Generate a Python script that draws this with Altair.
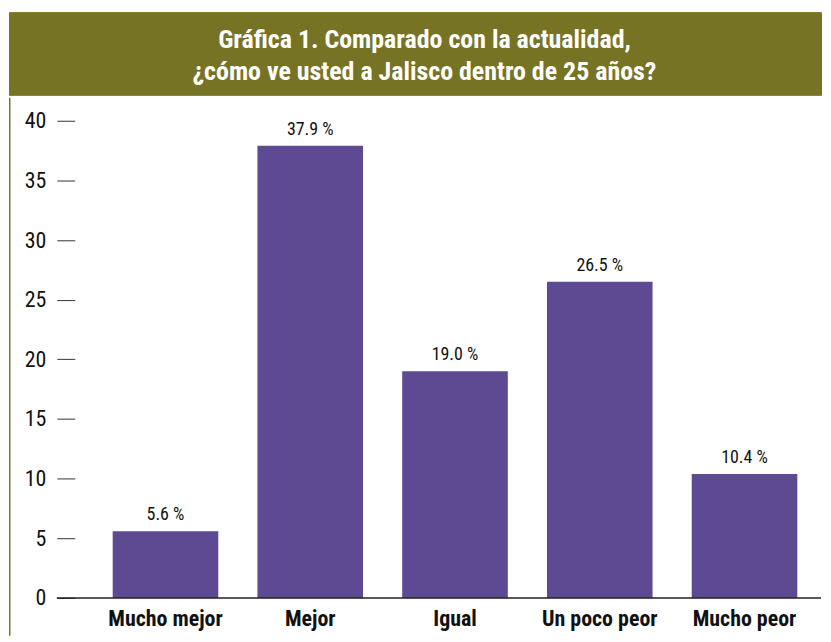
import altair as alt
import pandas as pd

categories = ["Mucho mejor", "Mejor", "Igual", "Un poco peor", "Mucho peor"]
values = [5.6, 37.9, 19.0, 26.5, 10.4]
y_ticks = [0, 5, 10, 15, 20, 25, 30, 35, 40]
title_lines = ["Gráfica 1. Comparado con la actualidad,", "¿cómo ve usted a Jalisco dentro de 25 años?"]

OLIVE = "#767424"
PURPLE = "#5E4993"
FONT = "Liberation Sans Narrow, Arial Narrow, Roboto Condensed, DejaVu Sans Condensed, sans-serif"
W = 815

df = pd.DataFrame({"cat": categories, "v": values})

top = alt.Chart(pd.DataFrame({"t": [0]})).mark_text(
    text=title_lines, font=FONT, fontSize=26, fontWeight="bold", color="white",
    lineHeight=32, align="center", baseline="middle"
).encode(
    x=alt.value(417), y=alt.value(28)
).properties(width=W, height=83, view=alt.ViewBackground(fill=OLIVE, stroke=OLIVE))

xenc = alt.X("cat:N", sort=categories,
             scale=alt.Scale(paddingInner=0.2705, paddingOuter=0.44, align=0.814),
             axis=alt.Axis(title=None, labelAngle=0, ticks=False, domain=False,
                           labelFont=FONT, labelFontSize=22, labelFontWeight="bold",
                           labelColor="#111", labelPadding=11))
yscale = alt.Scale(domain=[0, 41.92], nice=False, zero=True)

base = alt.Chart(df)
bars = base.mark_bar(color=PURPLE).encode(
    x=xenc,
    y=alt.Y("v:Q", scale=yscale,
            axis=alt.Axis(title=None, values=y_ticks, grid=False, domain=False,
                          offset=-66, tickSize=18, tickColor="#333", tickWidth=1,
                          labelFont=FONT, labelFontSize=22, labelColor="#111",
                          labelPadding=11))
)
labels = base.transform_calculate(
    lab="format(datum.v, '.1f') + ' %'"
).mark_text(font=FONT, fontSize=18, color="#111", baseline="bottom", dy=-7).encode(
    x=alt.X("cat:N", sort=categories), y=alt.Y("v:Q", scale=yscale), text="lab:N"
)
baseline = alt.Chart(pd.DataFrame({"z": [0]})).mark_rule(color="#222", strokeWidth=1.5).encode(
    x=alt.value(48), x2=alt.value(W), y=alt.Y("z:Q", scale=yscale)
)
border = alt.Chart(pd.DataFrame({"z": [0]})).mark_rule(color=OLIVE, strokeWidth=1.5).encode(
    x=alt.value(0.75), y=alt.value(0), y2=alt.value(540)
)

bottom = alt.layer(bars, baseline, labels, border).properties(
    width=W, height=502, view=alt.ViewBackground(fill="white", stroke="transparent")
)

chart = alt.vconcat(top, bottom, spacing=0).properties(
    padding={"left": 0, "top": 2, "right": 0, "bottom": 0}, background="white"
).configure_view(stroke="transparent")

chart.save("out.html", embed_options={"renderer": "svg", "actions": False})
